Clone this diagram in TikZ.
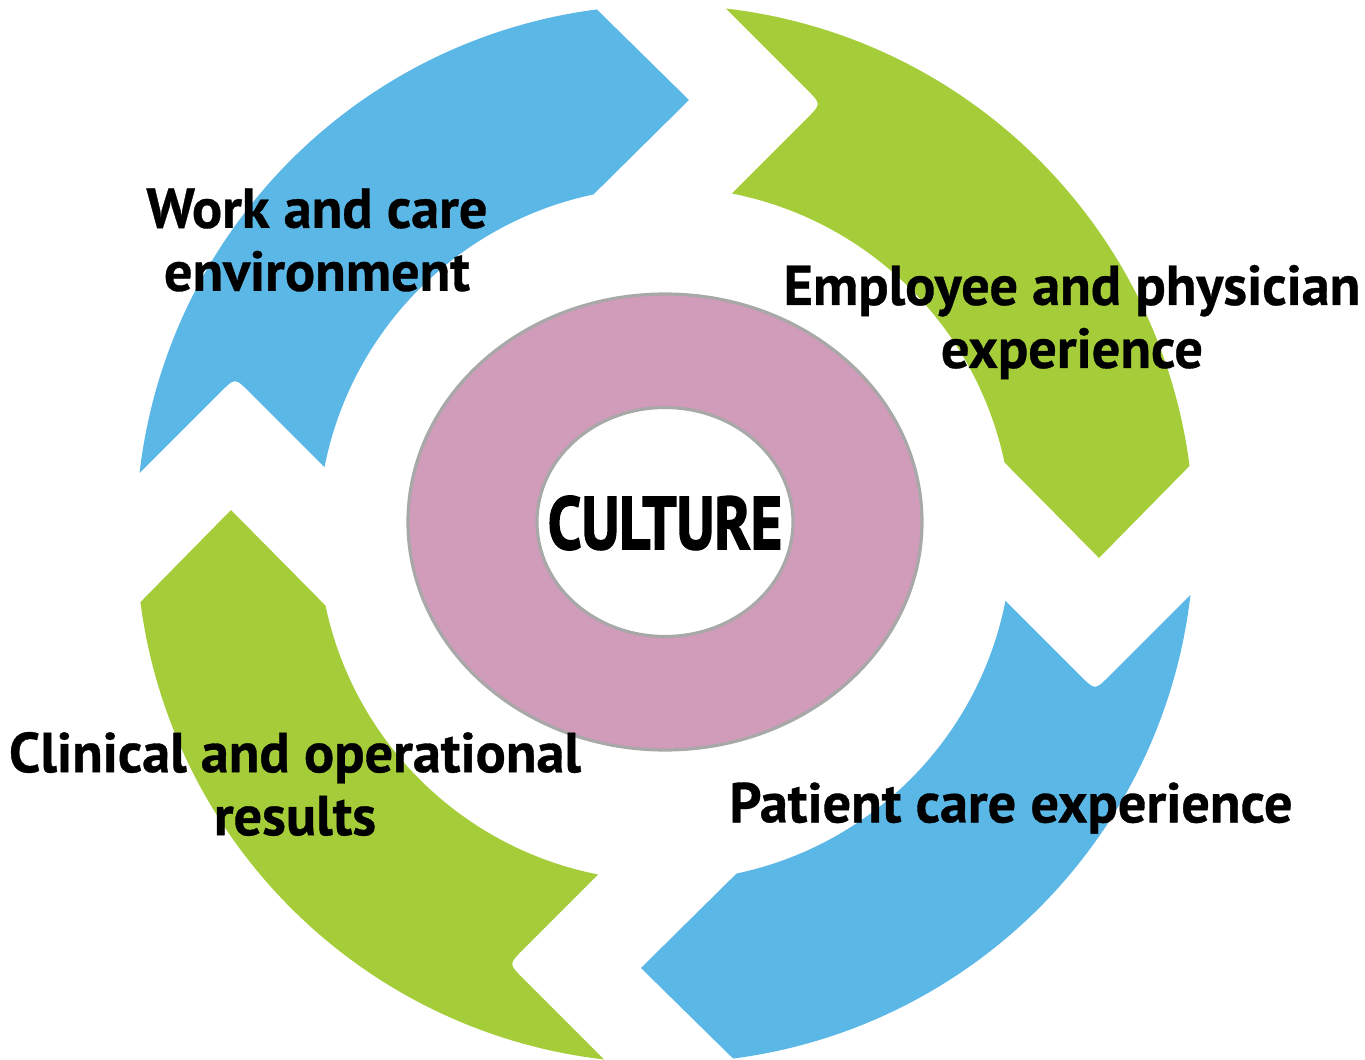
\documentclass[tikz,border=0pt]{standalone}
\usepackage{fontspec}
\setmainfont{PT Sans}[BoldFeatures={FakeBold=0.6}]
\newfontfamily\culturefont{PT Sans}[BoldFeatures={FakeBold=2.4}]
\definecolor{cycleblue}{RGB}{91,183,230}
\definecolor{cyclegreen}{RGB}{165,205,57}
\definecolor{ringpink}{RGB}{208,156,185}
\definecolor{ringgray}{RGB}{168,168,168}
\begin{document}
\begin{tikzpicture}[x=0.01cm, y=0.01cm,
	blue arrow/.style={fill=cycleblue},
	green arrow/.style={fill=cyclegreen},
	label text/.style={font=\fontsize{16}{17.9}\selectfont\bfseries, align=center, text=black}]
			
			\useasboundingbox (-665,-526) rectangle (700,534);
			
			%First arrow
			\fill[blue arrow] (173.4:529) arc (173.4:97.4:529) -- (24,434) -- (101.9:347) 
			arc (101.9:168.9:347) -- (-415.9,142.2) .. controls (-430,156.3) .. (-444.1,142.2) -- cycle;
			
			%Second arrow
			\fill[green arrow, rotate=-90] (173.4:529) arc (173.4:97.4:529) -- (24,434) -- (101.9:347) 
			arc (101.9:168.9:347) -- (-415.9,142.2) .. controls (-430,156.3) .. (-444.1,142.2) -- cycle;
			
			%Third arrow
			\fill[blue arrow, rotate=-180] (173.4:529) arc (173.4:97.4:529) -- (24,434) -- (101.9:347) 
			arc (101.9:168.9:347) -- (-415.9,142.2) .. controls (-430,156.3) .. (-444.1,142.2) -- cycle;
			
			%Fourth arrow
			\fill[green arrow, rotate=-270] (173.4:529) arc (173.4:97.4:529) -- (24,434) -- (101.9:347) 
			arc (101.9:168.9:347) -- (-415.9,142.2) .. controls (-430,156.3) .. (-444.1,142.2) -- cycle;
			
			%Ring in the middle
			\fill[ringpink, draw=ringgray, line width=0.9pt, even odd rule] 
			(0,12) ellipse [x radius=257, y radius=228] (0,12) ellipse [x radius=128, y radius=114.5];
			\node (Culture) at (0,11) {\culturefont\bfseries\resizebox{2.34cm}{0.53cm}{CULTURE}};
			
			%Writing on the arrows
			\node (Work Environment) at (-348,294) [label text]{Work and care\\environment};
			\node (Employee Experience) at (407,212) [label text]{Employee and physician\\experience};
			\node (Patient Experience) at (346,-274) [label text]{Patient care experience};
			\node (Clinical Results) at (-370,-250) [label text]{Clinical and operational\\results};
			
\end{tikzpicture}
\end{document}
